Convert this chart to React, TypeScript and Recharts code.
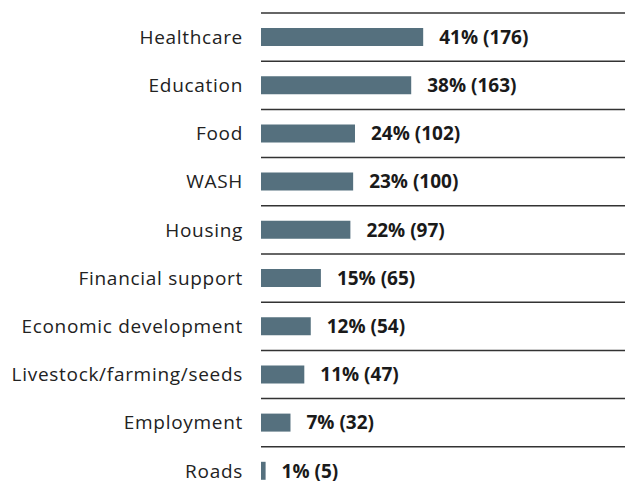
import React from "react";
import { BarChart, Bar, XAxis, YAxis, CartesianGrid, LabelList } from "recharts";

const categories = [
  "Healthcare",
  "Education",
  "Food",
  "WASH",
  "Housing",
  "Financial support",
  "Economic development",
  "Livestock/farming/seeds",
  "Employment",
  "Roads",
];
const percents = [41, 38, 24, 23, 22, 15, 12, 11, 7, 1];
const counts = [176, 163, 102, 100, 97, 65, 54, 47, 32, 5];

const data = categories.map((c, i) => ({
  name: c,
  count: counts[i],
  label: `${percents[i]}% (${counts[i]})`,
}));

const FONT = "'Open Sans', sans-serif";

export default function App() {
  return (
    <div style={{ position: "absolute", left: 0, top: 0, width: 625, height: 481, overflow: "hidden", background: "#fff" }}>
      <BarChart
        width={625}
        height={495}
        layout="vertical"
        data={data}
        margin={{ top: 13, right: 0, bottom: 0, left: 0 }}
      >
        <CartesianGrid
          vertical={false}
          stroke="#333"
          strokeWidth={1.5}
          strokeDasharray=""
          horizontalCoordinatesGenerator={({ offset }: any) =>
            categories.map((_, i) => offset.top + (i * offset.height) / categories.length)
          }
        />
        <XAxis type="number" hide domain={[0, 395]} />
        <YAxis
          type="category"
          dataKey="name"
          width={261}
          axisLine={false}
          tickLine={false}
          tickSize={0}
          tickMargin={18}
          interval={0}
          tick={{ fill: "#222", fontSize: 19, fontFamily: FONT, letterSpacing: 0.7 }}
        />
        <Bar dataKey="count" fill="#55707e" barSize={18} isAnimationActive={false}>
          <LabelList
            dataKey="label"
            position="right"
            offset={16}
            fill="#1a1a1a"
            style={{ fontWeight: 700, fontSize: 19, fontFamily: FONT }}
          />
        </Bar>
      </BarChart>
    </div>
  );
}
